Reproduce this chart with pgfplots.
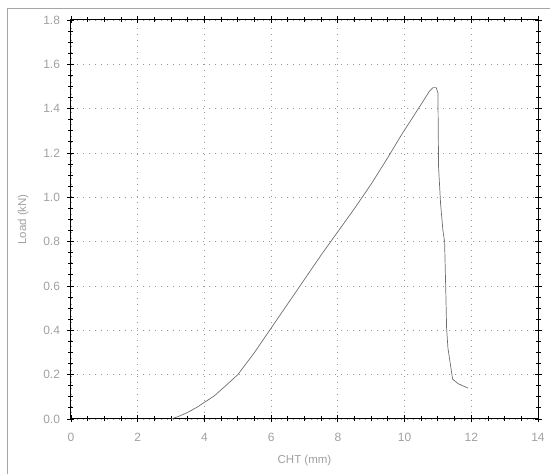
\documentclass[border=0pt]{standalone}
\usepackage{fontspec}
\setmainfont{Liberation Sans}
\usepackage{pgfplots}
\pgfplotsset{compat=1.18}
\definecolor{lbl}{RGB}{160,160,160}
\definecolor{crv}{RGB}{110,110,110}
\begin{document}
\begin{tikzpicture}
\useasboundingbox (0pt,0pt) rectangle (550pt,474pt);
\draw[gray!70, line width=1pt] (7pt,-2pt) -- (7pt,465pt) -- (552pt,465pt);
\begin{axis}[
  at={(71pt,55pt)}, anchor=south west,
  scale only axis, width=467pt, height=399pt,
  xmin=0, xmax=14, ymin=0, ymax=1.8,
  xtick={0,2,...,14}, ytick={0,0.2,...,1.8},
  minor x tick num=3, minor y tick num=3,
  grid=major,
  major grid style={gray!80, dash pattern=on 1.2pt off 4.8pt, line width=0.8pt},
  axis line style={black},
  axis x line*=box, axis y line*=box,
  every outer x axis line/.style={line width=1pt},
  tick style={black, line width=0.9pt},
  major tick length=7pt, minor tick length=5pt,
  xtick pos=both, ytick pos=both,
  tick align=center,
  yticklabel style={xshift=-4pt},
  y tick label style={/pgf/number format/.cd, fixed, fixed zerofill, precision=1},
  /pgf/number format/assume math mode=true,
  ticklabel style={font=\fontsize{12}{14}\selectfont, text=lbl},
  xticklabel style={yshift=-7pt},
  xlabel={CHT (mm)}, ylabel={Load (kN)},
  label style={font=\fontsize{11.5}{13}\selectfont, text=lbl},
  xlabel style={yshift=-7pt},
  ylabel style={yshift=8pt},
]
\addplot[crv, line width=0.7pt, mark=none] coordinates {
(3.0,0.0) (3.2,0.01) (3.5,0.03) (3.8,0.055) (4.0,0.075) (4.3,0.105) (4.6,0.145)
(5.0,0.20) (5.5,0.30) (6.0,0.41) (6.5,0.52) (7.0,0.63) (7.5,0.74) (8.0,0.845)
(8.5,0.95) (9.0,1.06) (9.25,1.12) (9.5,1.18) (9.94,1.29) (10.2,1.35) (10.54,1.43)
(10.75,1.48) (10.85,1.495) (10.95,1.495) (11.0,1.47) (11.02,1.135) (11.08,0.97)
(11.15,0.85) (11.2,0.80) (11.24,0.55) (11.26,0.41) (11.3,0.32) (11.35,0.27)
(11.44,0.18) (11.6,0.16) (11.74,0.15) (11.9,0.14)
};
\end{axis}
\end{tikzpicture}
\end{document}
